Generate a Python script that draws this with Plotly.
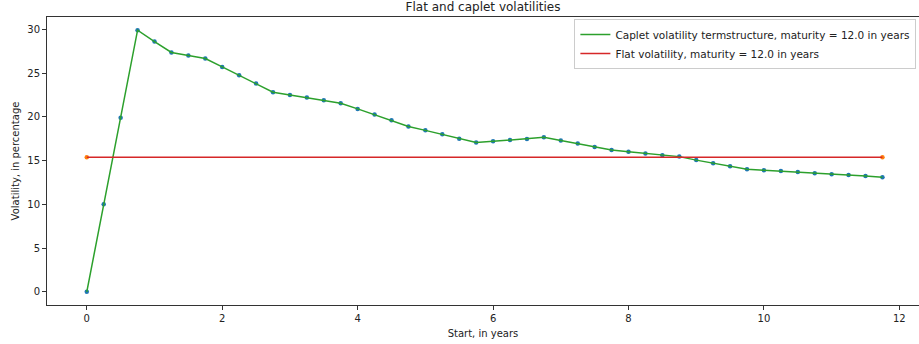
import plotly.graph_objects as go

# Start times of the caplets, in years
starts = [i * 0.25 for i in range(48)]

# Caplet volatility term structure, in percentage
caplet_vols = [
    0.0, 10.0, 19.9, 29.9, 28.6, 27.35, 27.0, 26.65, 25.7, 24.75,
    23.8, 22.8, 22.5, 22.2, 21.9, 21.55, 20.9, 20.25, 19.6, 18.9,
    18.45, 18.0, 17.5, 17.07, 17.2, 17.35, 17.45, 17.65, 17.3, 16.95,
    16.55, 16.2, 16.0, 15.8, 15.6, 15.45, 15.05, 14.7, 14.35, 14.0,
    13.9, 13.8, 13.7, 13.55, 13.45, 13.35, 13.25, 13.1,
]

# Flat volatility, drawn at the first and last start
flat_x = [starts[0], starts[-1]]
flat_vol = [15.38, 15.38]

caplet_name = "Caplet volatility termstructure, maturity = 12.0 in years"
flat_name = "Flat volatility, maturity = 12.0 in years"

font = "DejaVu Sans"

fig = go.Figure()

fig.add_trace(go.Scatter(
    x=starts, y=caplet_vols, mode="markers",
    marker=dict(color="#1f77b4", size=4.5), showlegend=False,
))
fig.add_trace(go.Scatter(
    x=starts, y=caplet_vols, mode="lines", name=caplet_name,
    line=dict(color="#2ca02c", width=1.5),
))
fig.add_trace(go.Scatter(
    x=flat_x, y=flat_vol, mode="markers",
    marker=dict(color="#ff7f0e", size=4.5), showlegend=False,
))
fig.add_trace(go.Scatter(
    x=flat_x, y=flat_vol, mode="lines", name=flat_name,
    line=dict(color="#d62728", width=1.5),
))

axis_common = dict(
    showgrid=False, zeroline=False, showline=True, linecolor="#333333",
    linewidth=1, ticks="outside", ticklen=4, tickcolor="#333333",
    tickfont=dict(family=font, size=10, color="#222222"),
)

fig.update_layout(
    width=919, height=344,
    margin=dict(l=47, r=0, t=17, b=39),
    paper_bgcolor="white", plot_bgcolor="white",
    font=dict(family=font, size=10, color="#222222"),
    title=dict(
        text="Flat and caplet volatilities", x=0.5, xref="paper",
        y=0.993, yanchor="top", font=dict(family=font, size=12, color="#222222"),
    ),
    xaxis=dict(
        range=[-0.5875, 12.29], tickvals=[0, 2, 4, 6, 8, 10, 12],
        mirror=True,
        title=dict(text="Start, in years", font=dict(family=font, size=10), standoff=6),
        **axis_common,
    ),
    yaxis=dict(
        range=[-1.5, 31.4], tickvals=[0, 5, 10, 15, 20, 25, 30],
        title=dict(text="Volatility, in percentage", font=dict(family=font, size=10), standoff=5),
        **axis_common,
    ),
    legend=dict(
        x=0.997, y=0.993, xanchor="right", yanchor="top",
        bgcolor="white", bordercolor="#cccccc", borderwidth=1,
        font=dict(family=font, size=10.5, color="#222222"),
        tracegroupgap=0, itemwidth=30,
    ),
)

fig.write_html("out.html")
